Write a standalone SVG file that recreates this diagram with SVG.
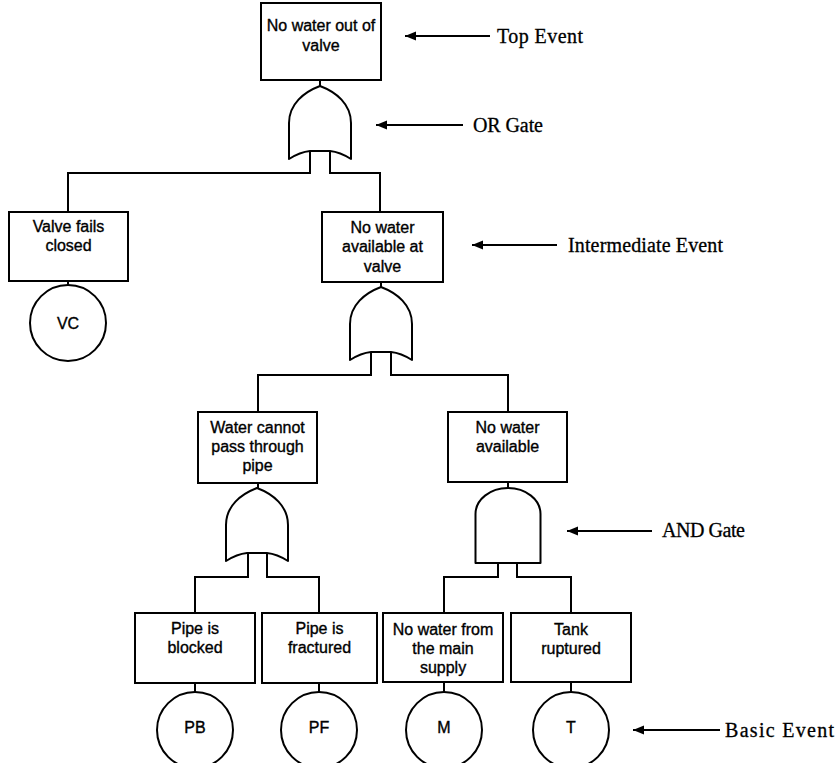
<svg xmlns="http://www.w3.org/2000/svg" width="836" height="763" viewBox="0 0 836 763">
<style>
.box{fill:#fff;stroke:#000;stroke-width:2}
.gate{fill:#fff;stroke:#000;stroke-width:2;stroke-linejoin:round}
.ln{fill:none;stroke:#000;stroke-width:2}
.t{font-family:"Liberation Sans",Arial,sans-serif;font-size:16px;text-anchor:middle;fill:#000;stroke:#000;stroke-width:0.35}
.lbl{font-family:"Liberation Serif","Times New Roman",serif;font-size:20px;fill:#000;stroke:#000;stroke-width:0.3}
.arr{fill:none;stroke:#000;stroke-width:2;marker-start:url(#ah)}
</style>
<defs>
<marker id="ah" markerUnits="userSpaceOnUse" markerWidth="12" markerHeight="10" refX="1" refY="5" orient="auto">
<path d="M1,5 L12,0.5 L12,9.5 Z" fill="#000" transform="rotate(0)"/>
</marker>
<path id="orgate" d="M -31,73 L -31,37 C -31,18 -16,6 0,0 C 16,6 31,18 31,37 L 31,73 Q 20,66 10,65 L -10,65 Q -20,66 -31,73 Z"/>
<path id="andgate" d="M -32.5,75 V 26 A 32.5 26 0 0 1 32.5 26 V 75 Z"/>
</defs>

<g id="connectors">
<path class="ln" d="M320,80 V86"/>
<path class="ln" d="M310,151 V173 H68 V212"/>
<path class="ln" d="M330,151 V173 H380 V212"/>
<path class="ln" d="M68,281 V285"/>
<path class="ln" d="M381,282 V287"/>
<path class="ln" d="M371,352 V375 H258 V412"/>
<path class="ln" d="M391,352 V375 H508 V412"/>
<path class="ln" d="M258,483 V488"/>
<path class="ln" d="M248,553 V577 H195 V613"/>
<path class="ln" d="M267,553 V577 H319 V613"/>
<path class="ln" d="M508,482 V488"/>
<path class="ln" d="M498,563 V577 H444 V613"/>
<path class="ln" d="M517,563 V577 H571 V613"/>
<path class="ln" d="M195,683 V692"/>
<path class="ln" d="M319,683 V692"/>
<path class="ln" d="M444,682 V692"/>
<path class="ln" d="M571,682 V692"/>
</g>

<g id="top-event">
<rect class="box" x="261" y="3" width="120" height="77"/>
<text class="t" x="321" y="31">No water out of</text>
<text class="t" x="321" y="51">valve</text>
</g>

<g id="or-gate-1"><use href="#orgate" class="gate" x="320" y="86"/></g>

<g id="valve-fails">
<rect class="box" x="9" y="212" width="119" height="69"/>
<text class="t" x="68.5" y="232">Valve fails</text>
<text class="t" x="68.5" y="251">closed</text>
</g>
<g id="vc">
<circle class="box" cx="68" cy="323" r="38"/>
<text class="t" x="68" y="329">VC</text>
</g>

<g id="no-water-valve">
<rect class="box" x="322" y="212" width="121" height="70"/>
<text class="t" x="382.5" y="233">No water</text>
<text class="t" x="382.5" y="252">available at</text>
<text class="t" x="382.5" y="272">valve</text>
</g>

<g id="or-gate-2"><use href="#orgate" class="gate" x="381" y="287"/></g>

<g id="water-cannot-pass">
<rect class="box" x="198" y="412" width="119" height="71"/>
<text class="t" x="257.5" y="433">Water cannot</text>
<text class="t" x="257.5" y="452">pass through</text>
<text class="t" x="257.5" y="471">pipe</text>
</g>

<g id="or-gate-3"><use href="#orgate" class="gate" x="257" y="488"/></g>

<g id="no-water-available">
<rect class="box" x="448" y="412" width="119" height="70"/>
<text class="t" x="507.5" y="433">No water</text>
<text class="t" x="507.5" y="452">available</text>
</g>

<g id="and-gate"><use href="#andgate" class="gate" x="508" y="488"/></g>

<g id="pipe-blocked">
<rect class="box" x="135" y="613" width="120" height="70"/>
<text class="t" x="195" y="634">Pipe is</text>
<text class="t" x="195" y="653">blocked</text>
</g>
<g id="pb">
<circle class="box" cx="195" cy="730" r="38"/>
<text class="t" x="195" y="733">PB</text>
</g>

<g id="pipe-fractured">
<rect class="box" x="262" y="613" width="115" height="70"/>
<text class="t" x="319.5" y="634">Pipe is</text>
<text class="t" x="319.5" y="653">fractured</text>
</g>
<g id="pf">
<circle class="box" cx="319" cy="730" r="38"/>
<text class="t" x="319" y="733">PF</text>
</g>

<g id="no-water-main">
<rect class="box" x="383" y="613" width="120" height="69"/>
<text class="t" x="443" y="635">No water from</text>
<text class="t" x="443" y="654">the main</text>
<text class="t" x="443" y="673">supply</text>
</g>
<g id="m">
<circle class="box" cx="444" cy="730" r="38"/>
<text class="t" x="444" y="733">M</text>
</g>

<g id="tank-ruptured">
<rect class="box" x="511" y="613" width="120" height="69"/>
<text class="t" x="571" y="635">Tank</text>
<text class="t" x="571" y="654">ruptured</text>
</g>
<g id="t">
<circle class="box" cx="571" cy="730" r="38"/>
<text class="t" x="571" y="733">T</text>
</g>

<g id="annotations">
<path class="arr" d="M405,36 H490"/>
<text class="lbl" x="497" y="43" textLength="86">Top Event</text>
<path class="arr" d="M376,125 H463"/>
<text class="lbl" x="473" y="132" textLength="70">OR Gate</text>
<path class="arr" d="M472,245 H557"/>
<text class="lbl" x="568" y="252" textLength="155">Intermediate Event</text>
<path class="arr" d="M567,531 H652"/>
<text class="lbl" x="662" y="537" textLength="83">AND Gate</text>
<path class="arr" d="M633,730 H720"/>
<text class="lbl" x="725" y="737" textLength="109">Basic Event</text>
</g>
</svg>
